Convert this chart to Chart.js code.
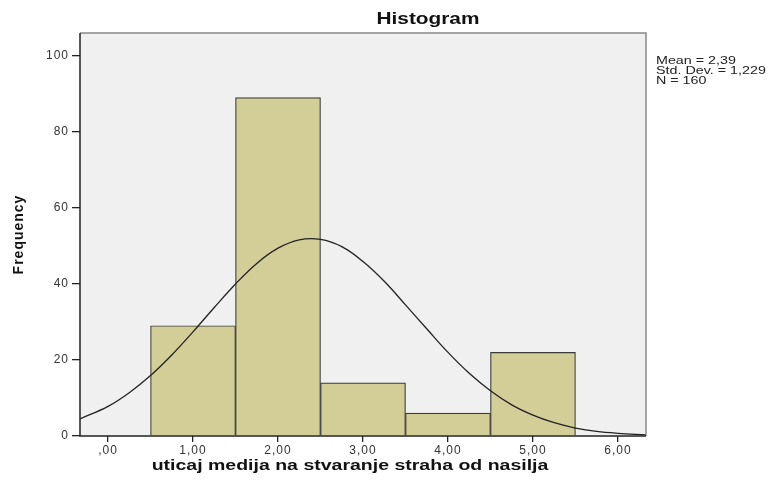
<!DOCTYPE html>
<html>
<head>
<meta charset="utf-8">
<script src="https://cdn.jsdelivr.net/npm/chart.js@4/dist/chart.umd.min.js"></script>
<style>
  body { margin: 0; background: #fff; }
  #wrap { width: 773px; height: 481px; }
</style>
</head>
<body>
<div id="wrap"><canvas id="hist"></canvas></div>
<script>
// Histogram bins (midpoints) and frequencies
const binCenters = [1, 2, 3, 4, 5];
const frequencies = [29, 89, 14, 6, 22];

// Normal curve
const curveX = [-0.33, 0, 0.25, 0.5, 0.75, 1, 1.25, 1.5, 1.75, 2, 2.25, 2.5, 2.75, 3, 3.25, 3.5, 3.75, 4, 4.25, 4.5, 4.75, 5, 5.25, 5.5, 5.75, 6, 6.33];
const curveY = [4.5, 7.8, 11.4, 15.9, 21.3, 27.4, 33.8, 40.0, 45.4, 49.4, 51.6, 51.7, 49.8, 45.9, 40.7, 34.5, 28.2, 22.0, 16.5, 11.9, 8.2, 5.5, 3.5, 2.1, 1.2, 0.7, 0.3];

const xTicks = [0, 1, 2, 3, 4, 5, 6];
const yTicks = [0, 20, 40, 60, 80, 100];

const statsLines = ['Mean = 2,39', 'Std. Dev. = 1,229', 'N = 160'];
const xTitle = 'uticaj medija na stvaranje straha od nasilja';

const FONT = '"Liberation Sans", Arial, sans-serif';
const STRETCH = 1.3; // the original text looks horizontally stretched

function wideText(ctx, text, x, y, font, align) {
    ctx.save();
    ctx.font = font;
    ctx.textAlign = align;
    ctx.textBaseline = 'middle';
    ctx.translate(x, y);
    ctx.scale(STRETCH, 1);
    ctx.fillText(text, 0, 0);
    ctx.restore();
}

// plot background, frame and annotations
const frame = {
    id: 'frame',
    beforeDraw(chart) {
        const { ctx, chartArea: a } = chart;
        ctx.save();
        ctx.fillStyle = '#f0f0f0';
        ctx.fillRect(a.left, a.top, a.right - a.left, a.bottom - a.top);
        ctx.restore();
        ctx.letterSpacing = '1px';
    },
    afterDraw(chart) {
        const { ctx, chartArea: a } = chart;
        ctx.save();
        ctx.letterSpacing = '0px';
        ctx.lineWidth = 1.5;
        ctx.strokeStyle = '#888';
        ctx.beginPath();
        ctx.moveTo(a.left, a.top);
        ctx.lineTo(a.right, a.top);
        ctx.lineTo(a.right, a.bottom);
        ctx.stroke();
        ctx.strokeStyle = '#222';
        ctx.beginPath();
        ctx.moveTo(a.left, a.top);
        ctx.lineTo(a.left, a.bottom);
        ctx.lineTo(a.right, a.bottom);
        ctx.stroke();

        ctx.fillStyle = '#111';
        wideText(ctx, 'Histogram', 428, 20, 'bold 16px ' + FONT, 'center');
        wideText(ctx, xTitle, 350, 466, 'bold 15px ' + FONT, 'center');

        ctx.fillStyle = '#222';
        statsLines.forEach((t, i) => wideText(ctx, t, 656, 61 + i * 10, '11px ' + FONT, 'left'));
        ctx.restore();
    }
};

new Chart(document.getElementById('hist'), {
    data: {
        datasets: [{
            type: 'line',
            data: curveX.map((x, i) => ({ x: x, y: curveY[i] })),
            borderColor: '#222',
            borderWidth: 1.3,
            pointRadius: 0,
            tension: 0.4,
            fill: false,
            order: 0
        }, {
            type: 'bar',
            data: binCenters.map((x, i) => ({ x: x, y: frequencies[i] })),
            backgroundColor: '#d3ce98',
            borderColor: '#3a3a3a',
            borderWidth: 1.2,
            barPercentage: 1,
            categoryPercentage: 1,
            order: 1
        }]
    },
    options: {
        responsive: true,
        maintainAspectRatio: false,
        animation: false,
        layout: { padding: { left: 0, right: 127, top: 33, bottom: 0 } },
        plugins: {
            legend: { display: false },
            tooltip: { enabled: false }
        },
        scales: {
            x: {
                type: 'linear',
                min: -0.33,
                max: 6.33,
                offset: false,
                afterBuildTicks: axis => { axis.ticks = xTicks.map(v => ({ value: v })); },
                afterFit: axis => { axis.height = 45; },
                border: { display: false },
                grid: { offset: false, drawOnChartArea: false, tickLength: 6, color: '#222', lineWidth: 1.3 },
                ticks: {
                    color: '#333',
                    padding: 1,
                    font: { family: FONT, size: 12 },
                    callback: v => v.toFixed(2).replace('.', ',').replace(/^0/, '')
                }
            },
            y: {
                min: 0,
                max: 106,
                afterBuildTicks: axis => { axis.ticks = yTicks.map(v => ({ value: v })); },
                afterFit: axis => { axis.width = 80; },
                border: { display: false },
                grid: { drawOnChartArea: false, tickLength: 8, color: '#222', lineWidth: 1.3 },
                ticks: {
                    color: '#333',
                    padding: 3,
                    font: { family: FONT, size: 12 }
                },
                title: {
                    display: true,
                    text: 'Frequency',
                    color: '#111',
                    font: { family: FONT, size: 14, weight: 'bold' },
                    padding: { top: 11, bottom: 0 }
                }
            }
        }
    },
    plugins: [frame]
});
</script>
</body>
</html>
